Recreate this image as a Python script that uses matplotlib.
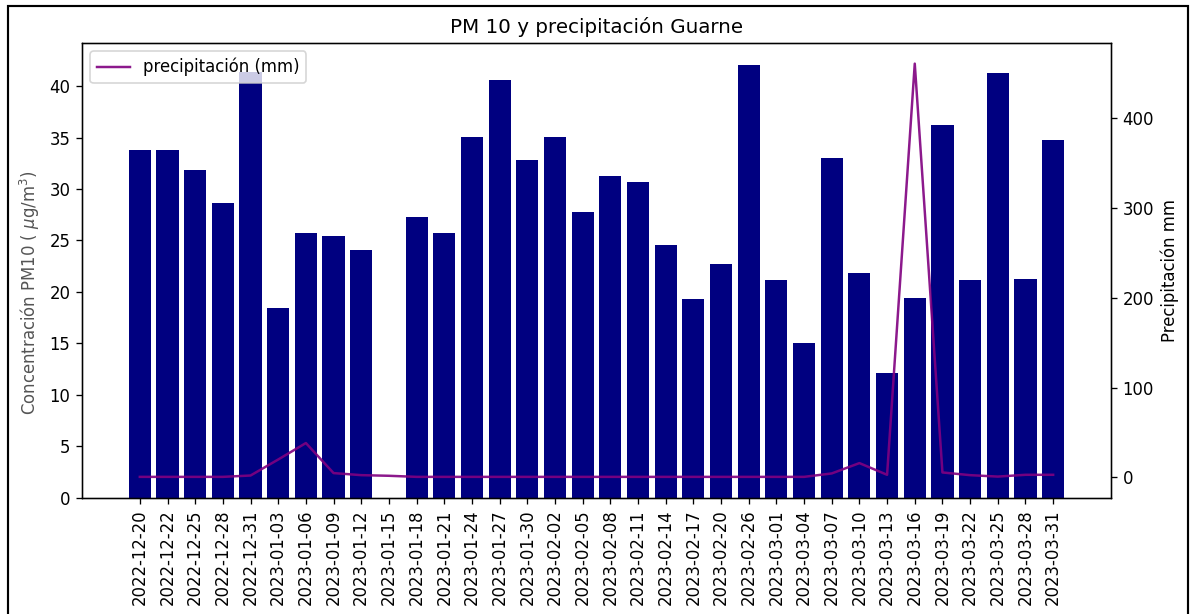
import numpy as np
import matplotlib
matplotlib.use("Agg")
import matplotlib.pyplot as plt
from matplotlib.patches import Rectangle

fechas = ["2022-12-20", "2022-12-22", "2022-12-25", "2022-12-28", "2022-12-31",
          "2023-01-03", "2023-01-06", "2023-01-09", "2023-01-12", "2023-01-15",
          "2023-01-18", "2023-01-21", "2023-01-24", "2023-01-27", "2023-01-30",
          "2023-02-02", "2023-02-05", "2023-02-08", "2023-02-11", "2023-02-14",
          "2023-02-17", "2023-02-20", "2023-02-26", "2023-03-01", "2023-03-04",
          "2023-03-07", "2023-03-10", "2023-03-13", "2023-03-16", "2023-03-19",
          "2023-03-22", "2023-03-25", "2023-03-28", "2023-03-31"]

pm10 = [33.8, 33.8, 31.9, 28.6, 41.4, 18.4, 25.7, 25.4, 24.1, np.nan,
        27.3, 25.7, 35.1, 40.6, 32.8, 35.1, 27.8, 31.3, 30.7, 24.6,
        19.3, 22.7, 42.1, 21.2, 15.0, 33.0, 21.8, 12.1, 19.4, 36.2,
        21.2, 41.3, 21.3, 34.8]

precipitacion = [0.7, 0.7, 0.7, 0.7, 2.2, 20.0, 38.3, 4.9, 2.6, 1.9,
                 0.7, 0.7, 0.7, 0.7, 0.7, 0.7, 0.7, 0.7, 0.7, 0.7,
                 0.7, 0.7, 0.7, 0.7, 0.7, 4.5, 16.0, 3.0, 460.0, 5.6,
                 2.6, 1.0, 3.0, 3.0]

DPI = 119
fig = plt.figure(figsize=(1190 / DPI, 614 / DPI), dpi=DPI)
ax1 = fig.add_axes([0.0689, 0.1897, 0.8647, 0.7403])
ax1.bar(fechas, pm10, color="navy", width=0.8)
ax1.set_ylabel("Concentración PM10 ( $\\mu$g/m$^3$)", color="#555555", fontsize=10)
ax1.yaxis.set_label_coords(-0.039, 0.45)
ax1.set_title("PM 10 y precipitación Guarne")
ax1.tick_params(axis="x", rotation=90)

ax2 = ax1.twinx()
ax2.plot(fechas, precipitacion, color="purple", alpha=0.9, label="precipitación (mm)")
ax2.set_ylabel("Precipitación mm")
ax2.legend(loc="upper left")

fig.patches.append(Rectangle((7.5 / 1190, -0.05), (1188 - 7.5) / 1190, 1.05 - 5.5 / 614,
                             transform=fig.transFigure, fill=False,
                             edgecolor="black", linewidth=1.3))

fig.savefig("out.png", dpi=DPI)
